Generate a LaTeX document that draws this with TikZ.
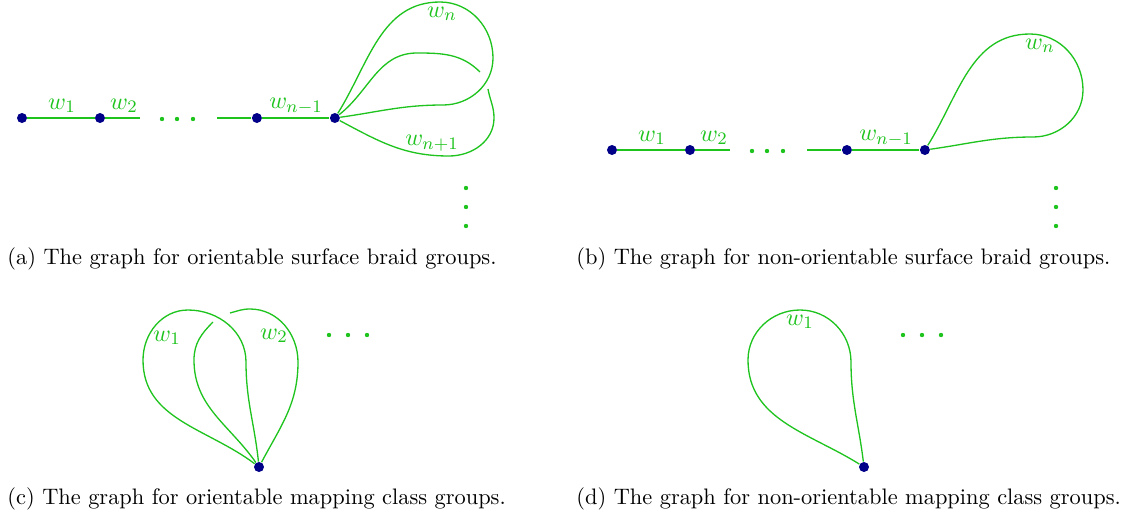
\documentclass[tikz,border=0pt]{standalone}
\usepackage{tikz}
\usetikzlibrary{positioning}
\definecolor{clredge}{HTML}{1EC31E}
\definecolor{clrvertex}{HTML}{000088}
\definecolor{clrtext}{HTML}{000000}

\begin{document}
\begin{tikzpicture}[
    x=0.016cm, y=-0.016cm,
    on grid,
    vertex/.style={circle, fill=clrvertex, inner sep=0pt, minimum size=1.6mm},
    edge/.style={draw=clredge, line width=0.6pt},
    wlabel/.style={text=clredge, inner sep=0pt, font=\fontsize{11}{13}\selectfont},
    dotmark/.style={fill=clredge},
    caption/.style={anchor=base west, inner sep=0pt, text=clrtext, font=\fontsize{10.2}{12}\selectfont},
]
\useasboundingbox (0,0) rectangle (1126,517);

% (a) orientable surface braid groups
\node[vertex] (a_1) at (22,118) {};
\node[vertex, right=1.248cm of a_1] (a_2) {};
\node[vertex, right=2.512cm of a_2] (a_3) {};
\node[vertex, right=1.248cm of a_3] (a_4) {};
\coordinate (a_stub_1) at (140,118);
\coordinate (a_stub_2) at (217,118);
\coordinate (a_gap_1) at (480,72);
\coordinate (a_gap_2) at (488,89);
\draw[edge] (a_1) -- (a_2) -- (a_stub_1);
\draw[edge] (a_stub_2) -- (a_3) -- (a_4);
\draw[edge] (a_4) to[out=58,in=180] (440,2) to[out=0,in=90] (493,58) to[out=-90,in=0] (443,105) to[out=180,in=8] (a_4);
\draw[edge] (a_4) to[out=38,in=180] (417,53) to[out=0,in=135] (a_gap_1);
\draw[edge] (a_gap_2) to[out=-80,in=90] (494,118) to[out=-90,in=0] (449,156) to[out=180,in=-28] (a_4);
\node[wlabel] (a_w1) at (62,106) {$w_1$};
\node[wlabel] (a_w2) at (124,106) {$w_2$};
\node[wlabel] (a_wn1) at (296,106) {$w_{n-1}$};
\node[wlabel] (a_wn) at (442,14) {$w_n$};
\node[wlabel] (a_wn2) at (432,143) {$w_{n+1}$};
\fill[dotmark] (162,119) circle (1pt);
\fill[dotmark] (177,119) circle (1pt);
\fill[dotmark] (193,119) circle (1pt);
\fill[dotmark] (466,188) circle (1pt);
\fill[dotmark] (466,207) circle (1pt);
\fill[dotmark] (466,226) circle (1pt);
\node[caption] (a_cap) at (7,264) {(a) The graph for orientable surface braid groups.};

% (b) non-orientable surface braid groups
\node[vertex] (b_1) at (612,150) {};
\node[vertex, right=1.248cm of b_1] (b_2) {};
\node[vertex, right=2.512cm of b_2] (b_3) {};
\node[vertex, right=1.248cm of b_3] (b_4) {};
\coordinate (b_stub_1) at (730,150);
\coordinate (b_stub_2) at (807,150);
\draw[edge] (b_1) -- (b_2) -- (b_stub_1);
\draw[edge] (b_stub_2) -- (b_3) -- (b_4);
\draw[edge] (b_4) to[out=58,in=180] (1030,34) to[out=0,in=90] (1083,90) to[out=-90,in=0] (1033,137) to[out=180,in=8] (b_4);
\node[wlabel] (b_w1) at (652,138) {$w_1$};
\node[wlabel] (b_w2) at (714,138) {$w_2$};
\node[wlabel] (b_wn1) at (886,138) {$w_{n-1}$};
\node[wlabel] (b_wn) at (1040,46) {$w_n$};
\fill[dotmark] (752,151) circle (1pt);
\fill[dotmark] (767,151) circle (1pt);
\fill[dotmark] (783,151) circle (1pt);
\fill[dotmark] (1056,188) circle (1pt);
\fill[dotmark] (1056,207) circle (1pt);
\fill[dotmark] (1056,226) circle (1pt);
\node[caption] (b_cap) at (576,264) {(b) The graph for non-orientable surface braid groups.};

% (c) orientable mapping class groups
\node[vertex] (c_1) at (259,467) {};
\coordinate (c_gap_1) at (213,322);
\coordinate (c_gap_2) at (230,313);
\draw[edge] (c_1) to[out=143,in=-90] (143,360) to[out=90,in=180] (188,310) to[out=0,in=90] (246,362) to[out=-90,in=96] (c_1);
\draw[edge] (c_1) to[out=125,in=-90] (194,360) to[out=90,in=-135] (c_gap_1);
\draw[edge] (c_gap_2) to[out=15,in=180] (250,309) to[out=0,in=90] (298,362) to[out=-90,in=62] (c_1);
\node[wlabel] (c_w1) at (167,338) {$w_1$};
\node[wlabel] (c_w2) at (274,336) {$w_2$};
\fill[dotmark] (329,335) circle (1pt);
\fill[dotmark] (348,335) circle (1pt);
\fill[dotmark] (367,335) circle (1pt);
\node[caption] (c_cap) at (7,504) {(c) The graph for orientable mapping class groups.};

% (d) non-orientable mapping class groups
\node[vertex] (d_1) at (864,467) {};
\draw[edge] (d_1) to[out=148,in=-90] (748,360) to[out=90,in=180] (800,310) to[out=0,in=90] (851,362) to[out=-90,in=97] (d_1);
\node[wlabel] (d_w1) at (800,322) {$w_1$};
\fill[dotmark] (903,335) circle (1pt);
\fill[dotmark] (922,335) circle (1pt);
\fill[dotmark] (941,335) circle (1pt);
\node[caption] (d_cap) at (576,504) {(d) The graph for non-orientable mapping class groups.};
\end{tikzpicture}
\end{document}
